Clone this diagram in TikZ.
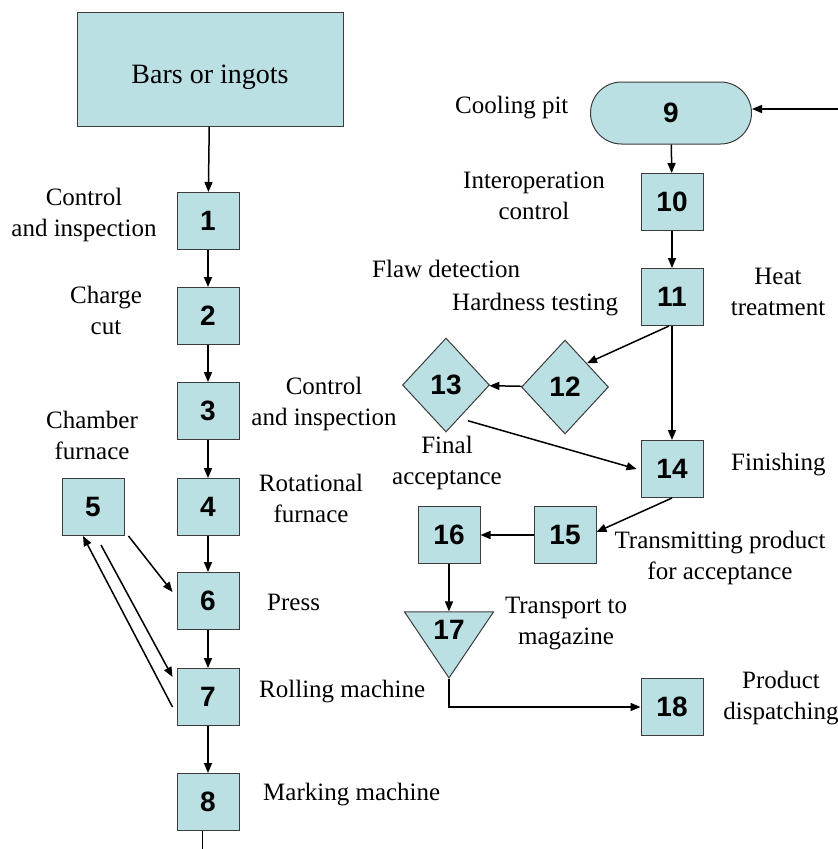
\documentclass[tikz,border=0pt]{standalone}
\usepackage{fontspec}
\setmainfont{Liberation Serif}
\setsansfont{Liberation Sans}
\usetikzlibrary{shapes, shapes.geometric, shapes.misc, arrows.meta, positioning}
\definecolor{boxfill}{RGB}{187,224,227}
\definecolor{boxline}{RGB}{60,60,60}

\begin{document}
\begin{tikzpicture}[
  x=1pt, y=-1pt,
  stepbox/.style={rectangle, draw=boxline, fill=boxfill, line width=1pt,
    minimum width=62pt, minimum height=57pt, inner sep=0pt,
    font=\fontsize{28}{30}\sffamily\bfseries},
  checkbox/.style={stepbox, diamond, minimum width=87pt, minimum height=94pt},
  pitbox/.style={stepbox, rounded rectangle, minimum width=161pt, minimum height=62pt},
  transbox/.style={stepbox, isosceles triangle, shape border rotate=270,
    isosceles triangle stretches, minimum width=89pt, minimum height=66pt},
  lbl/.style={font=\fontsize{25}{31}\selectfont, align=center, inner sep=0pt},
  flow/.style={-{Triangle[length=10pt, width=8pt]}, line width=1.5pt}]

  \useasboundingbox (0,0) rectangle (838,849);

  % left column
  \node[stepbox, minimum width=266pt, minimum height=114pt, text height=36pt,
    font=\fontsize{28}{30}\selectfont] (bars) at (210,69) {Bars or ingots};
  \node[stepbox] (n1) at (208,221) {1};
  \node[stepbox] (n2) at (208,316) {2};
  \node[stepbox] (n3) at (208,411) {3};
  \node[stepbox] (n4) at (208,507) {4};
  \node[stepbox] (n5) at (93,507) {5};
  \node[stepbox] (n6) at (208,601) {6};
  \node[stepbox] (n7) at (208,697) {7};
  \node[stepbox] (n8) at (208,802) {8};
  \coordinate (out8) at (202,849);

  % right column
  \node[pitbox] (n9) at (671,113) {9};
  \coordinate (in9) at (838,109);
  \node[stepbox] (n10) at (672,202) {10};
  \node[stepbox] (n11) at (672,297) {11};
  \node[checkbox] (n12) at (565,387) {12};
  \node[checkbox] (n13) at (446,385) {13};
  \node[stepbox] (n14) at (672,469) {14};
  \node[stepbox] (n15) at (565,535) {15};
  \node[stepbox] (n16) at (449,535) {16};
  \node[transbox] (n17) at (449,630) {17};
  \node[stepbox] (n18) at (672,707) {18};

  % labels
  \node[lbl] (t1) at (84,215) {Control\\and inspection};
  \node[lbl] (t2) at (106,310) {Charge\\cut};
  \node[lbl] (t3) at (324,404) {Control\\and inspection};
  \node[lbl] (t5) at (92,435) {Chamber\\furnace};
  \node[lbl] (t4) at (311,498) {Rotational\\furnace};
  \node[lbl, anchor=base west] (t6) at (267,610) {Press};
  \node[lbl, anchor=base west] (t7) at (259,697) {Rolling machine};
  \node[lbl, anchor=base west] (t8) at (263,800) {Marking machine};
  \node[lbl, anchor=base west] (t9) at (455,113) {Cooling pit};
  \node[lbl] (t10) at (534,196) {Interoperation\\control};
  \node[lbl, anchor=base west] (t13) at (372,277) {Flaw detection};
  \node[lbl, anchor=base west] (t12) at (452,310) {Hardness testing};
  \node[lbl] (t11) at (778,292) {Heat\\treatment};
  \node[lbl, anchor=base west] (t14) at (731,470) {Finishing};
  \node[lbl] (t16) at (447,463) {Final\\acceptance};
  \node[lbl] (t15) at (720,558) {Transmitting product\\for acceptance};
  \node[lbl] (t17) at (566,624) {Transport to\\magazine};
  \node[lbl] (t18) at (781,698) {Product\\dispatching};

  % connectors
  \draw[flow] (bars) -- (n1);
  \draw[flow] (n1) -- (n2);
  \draw[flow] (n2) -- (n3);
  \draw[flow] (n3) -- (n4);
  \draw[flow] (n4) -- (n6);
  \draw[flow] (n6) -- (n7);
  \draw[flow] (n7) -- (n8);
  \draw[line width=1pt] ([xshift=-6pt]n8.south) -- (out8);
  \draw[flow] ([xshift=4pt]n5.south east) -- ([xshift=-4pt, yshift=9pt]n6.west);
  \draw[flow] ([xshift=8pt, yshift=-9pt]n5.south) -- ([xshift=-4pt, yshift=20pt]n7.west);
  \draw[flow] ([xshift=-4pt, yshift=-10pt]n7.west) -- ([xshift=-10pt]n5.south);

  \draw[flow] (in9) -- ([yshift=4pt]n9.east);
  \draw[flow] (n9) -- (n10);
  \draw[flow] (n10) -- (n11);
  \draw[flow] ([xshift=-3pt]n11.south) -- (n12.north east);
  \draw[flow] (n11) -- (n14);
  \draw[flow] (n12) -- (n13);
  \draw[flow] ([yshift=-12pt]n13.south east) -- ([xshift=-4pt]n14.west);
  \draw[flow] (n14.south) -- ([yshift=3pt]n15.east);
  \draw[flow] (n15) -- (n16);
  \draw[flow] (n16.south) -- (n17.lower side);
  \draw[flow] (n17.apex) |- (n18.west);
\end{tikzpicture}
\end{document}
